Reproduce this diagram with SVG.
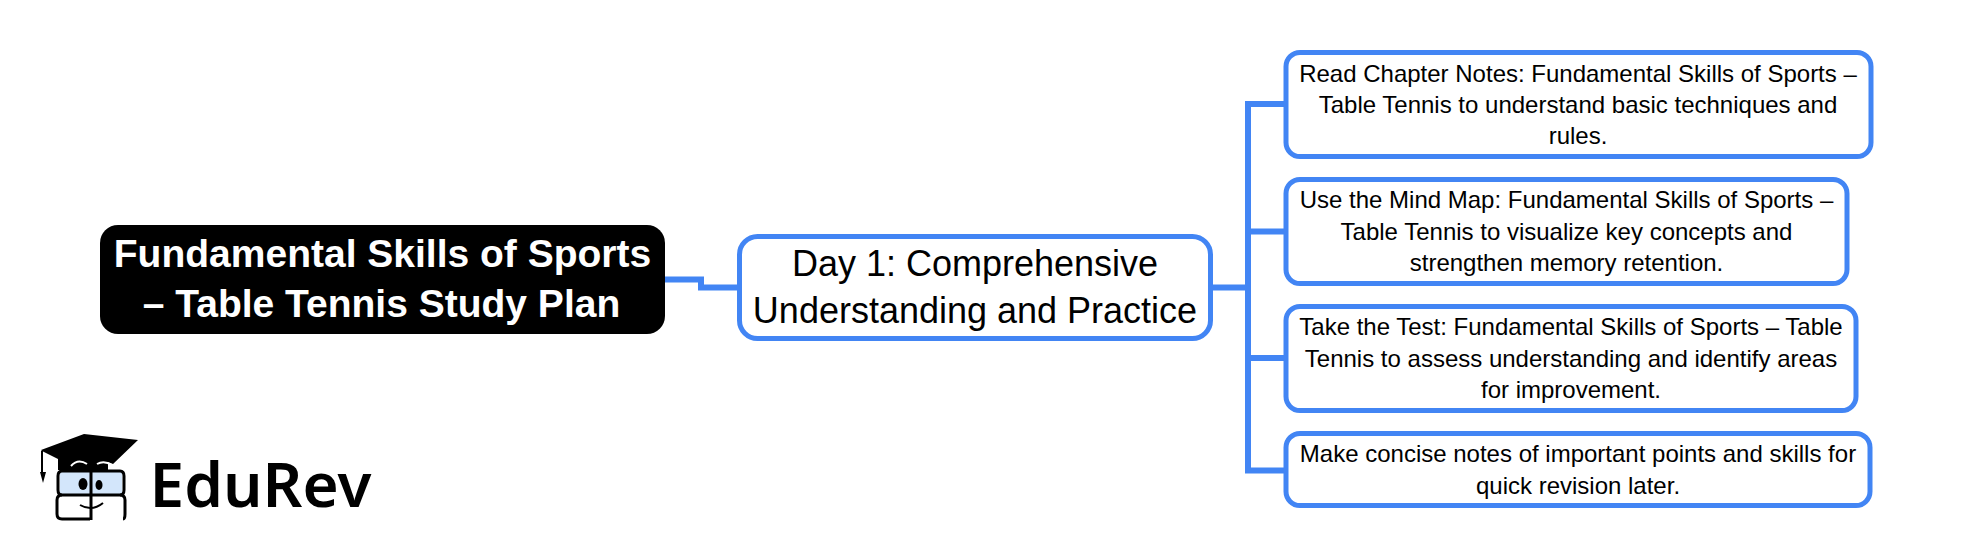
<svg xmlns="http://www.w3.org/2000/svg" width="1974" height="559" viewBox="0 0 1974 559">
<style>
text{font-family:"Liberation Sans",Arial,sans-serif;text-anchor:middle;fill:#000}
.box{fill:#fff;stroke:#4285f4;stroke-width:5}
.leaf text{font-size:24px}
.conn{fill:none;stroke:#4285f4;stroke-width:6}
</style>
<rect width="1974" height="559" fill="#fff"/>
<g id="connectors" class="conn">
<path d="M664 279.500H701V287.500H738"/>
<path d="M1212 287.500H1248M1248 104V470.500M1245 104H1286M1248 231.500H1286M1248 358H1286M1245 470.500H1286"/>
</g>
<g id="root">
<rect x="100" y="225" width="565" height="109" rx="18" fill="#000"/>
<text x="382.500" y="267" font-size="39" font-weight="700" style="fill:#fff">Fundamental Skills of Sports</text>
<text x="381.500" y="317" font-size="39" font-weight="700" style="fill:#fff">– Table Tennis Study Plan</text>
</g>
<g id="day1">
<rect class="box" x="739.500" y="236.500" width="471" height="102" rx="18"/>
<text x="975" y="276" font-size="36">Day 1: Comprehensive</text>
<text x="975" y="323" font-size="36">Understanding and Practice</text>
</g>
<g id="leaf1" class="leaf">
<rect class="box" x="1286" y="52.500" width="585" height="104" rx="14"/>
<text x="1578" y="82">Read Chapter Notes: Fundamental Skills of Sports –</text>
<text x="1578" y="113">Table Tennis to understand basic techniques and</text>
<text x="1578" y="144">rules.</text>
</g>
<g id="leaf2" class="leaf">
<rect class="box" x="1286" y="179.500" width="561" height="104" rx="14"/>
<text x="1566.500" y="208">Use the Mind Map: Fundamental Skills of Sports –</text>
<text x="1566.500" y="240">Table Tennis to visualize key concepts and</text>
<text x="1566.500" y="271">strengthen memory retention.</text>
</g>
<g id="leaf3" class="leaf">
<rect class="box" x="1286" y="306.500" width="570" height="104" rx="14"/>
<text x="1571" y="335">Take the Test: Fundamental Skills of Sports – Table</text>
<text x="1571" y="367">Tennis to assess understanding and identify areas</text>
<text x="1571" y="398">for improvement.</text>
</g>
<g id="leaf4" class="leaf">
<rect class="box" x="1286" y="433.500" width="584" height="72" rx="14"/>
<text x="1578" y="462">Make concise notes of important points and skills for</text>
<text x="1578" y="494">quick revision later.</text>
</g>
<g id="logo">
<path d="M60 471H122V494H60Z" fill="#d3e6fb"/>
<path d="M84 434L138 440L113 464L108 462V470H58V459L42 451L41 450Z" fill="#000"/>
<path d="M71 466Q78 458 87 464M97 464Q104 460 112 465" fill="none" stroke="#fff" stroke-width="2"/>
<path d="M42 451V472" fill="none" stroke="#000" stroke-width="2"/>
<path d="M40 472H46L43 483Z" fill="#000"/>
<g fill="none" stroke="#000" stroke-width="3">
<path d="M90 471H62Q58 471 58 476V490Q58 495 62 495H120Q124 495 124 490V476Q124 471 120 471H92"/>
<path d="M62 495Q57 495 57 500V514Q57 519 62 519H90M120 495Q125 495 125 500V514Q125 519 123 519"/>
<path d="M91 469V520"/>
<path d="M80 505Q92 512 103 503" stroke-width="2"/>
</g>
<ellipse cx="83" cy="484" rx="4.500" ry="6" fill="#000"/>
<ellipse cx="99" cy="485" rx="3.500" ry="5" fill="#000"/>
<text x="260.500" y="507" font-size="62" font-weight="600" style="font-family:'Noto Sans','Open Sans',sans-serif">EduRev</text>
</g>
</svg>
